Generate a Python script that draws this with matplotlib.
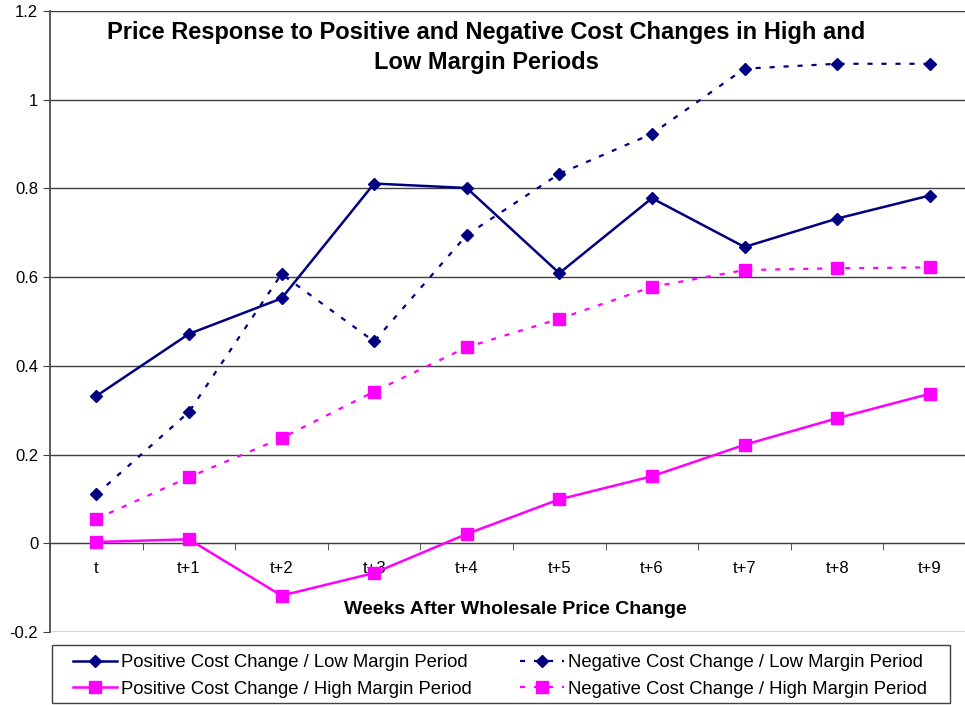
import matplotlib
matplotlib.use("Agg")
import matplotlib.pyplot as plt
from matplotlib.patches import Rectangle
import numpy as np

plt.rcParams["font.family"] = ["Liberation Sans", "DejaVu Sans"]

weeks = ["t", "t+1", "t+2", "t+3", "t+4", "t+5", "t+6", "t+7", "t+8", "t+9"]
pos_low = [0.332, 0.472, 0.552, 0.811, 0.801, 0.609, 0.778, 0.668, 0.732, 0.784]
neg_low = [0.110, 0.296, 0.607, 0.455, 0.695, 0.833, 0.923, 1.070, 1.081, 1.081]
pos_high = [0.003, 0.009, -0.118, -0.067, 0.021, 0.099, 0.151, 0.222, 0.282, 0.337]
neg_high = [0.055, 0.149, 0.237, 0.342, 0.442, 0.506, 0.578, 0.616, 0.620, 0.622]

NAVY = "#000080"
MAG = "#FF00FF"
W, H = 965, 705

fig = plt.figure(figsize=(W / 100, H / 100), dpi=100)
ax = fig.add_axes([50 / W, 1 - 632 / H, 926 / W, 621 / H])

x = np.arange(len(weeks))
dash = (0, (2.3, 4))
h1, = ax.plot(x, pos_low, color=NAVY, lw=1.8, marker="D", ms=6,
              label="Positive Cost Change / Low Margin Period", zorder=4)
h3, = ax.plot(x, neg_low, color=NAVY, lw=1.6, ls=dash, marker="D", ms=6,
              label="Negative Cost Change / Low Margin Period", zorder=4)
h2, = ax.plot(x, pos_high, color=MAG, lw=1.8, marker="s", ms=8.5,
              label="Positive Cost Change / High Margin Period", zorder=4)
h4, = ax.plot(x, neg_high, color=MAG, lw=1.6, ls=dash, marker="s", ms=8.5,
              label="Negative Cost Change / High Margin Period", zorder=4)

ax.set_xlim(-0.5, 9.5)
ax.set_ylim(-0.2, 1.2)
ax.set_yticks(np.arange(-0.2, 1.21, 0.2))
ax.set_yticklabels(["-0.2", "0", "0.2", "0.4", "0.6", "0.8", "1", "1.2"])
ax.yaxis.grid(True, color="#404040", lw=1)
ax.set_axisbelow(True)

ax.spines["top"].set_visible(False)
ax.spines["right"].set_visible(False)
ax.spines["bottom"].set_position(("data", 0))
ax.spines["bottom"].set_color("#404040")
ax.spines["left"].set_color("#404040")
ax.spines["left"].set_linewidth(1.2)

ax.set_xticks(x)
ax.set_xticklabels(weeks)
ax.set_xticks(np.arange(-0.5, 9.6, 1), minor=True)
ax.tick_params(axis="x", which="major", length=0, pad=13, labelsize=12)
ax.tick_params(axis="x", which="minor", length=5, direction="out", color="#404040")
ax.tick_params(axis="y", length=5, direction="out", color="#404040", labelsize=12)

fig.text(515 / W, 1 - 609 / H, "Weeks After Wholesale Price Change",
         ha="center", va="center", fontsize=14, fontweight="bold")

fig.text(486 / W, 1 - 47.5 / H,
         "Price Response to Positive and Negative Cost Changes in High and\nLow Margin Periods",
         ha="center", va="center", fontsize=17, fontweight="bold",
         multialignment="center", linespacing=1.36)

# legend box drawn by hand, legend entries placed inside it
fig.patches.append(Rectangle((52 / W, 1 - 703 / H), 898 / W, 58 / H,
                             transform=fig.transFigure, fill=False,
                             edgecolor="#404040", lw=1))
fig.legend(handles=[h1, h2, h3, h4], ncol=2, loc="center left",
           bbox_to_anchor=(73 / W, 1 - 676 / H), fontsize=13.3,
           frameon=False, borderpad=0, borderaxespad=0,
           handlelength=2.4, handletextpad=0.2, labelspacing=0.5,
           columnspacing=2.6)

fig.savefig("out.png", dpi=100)
